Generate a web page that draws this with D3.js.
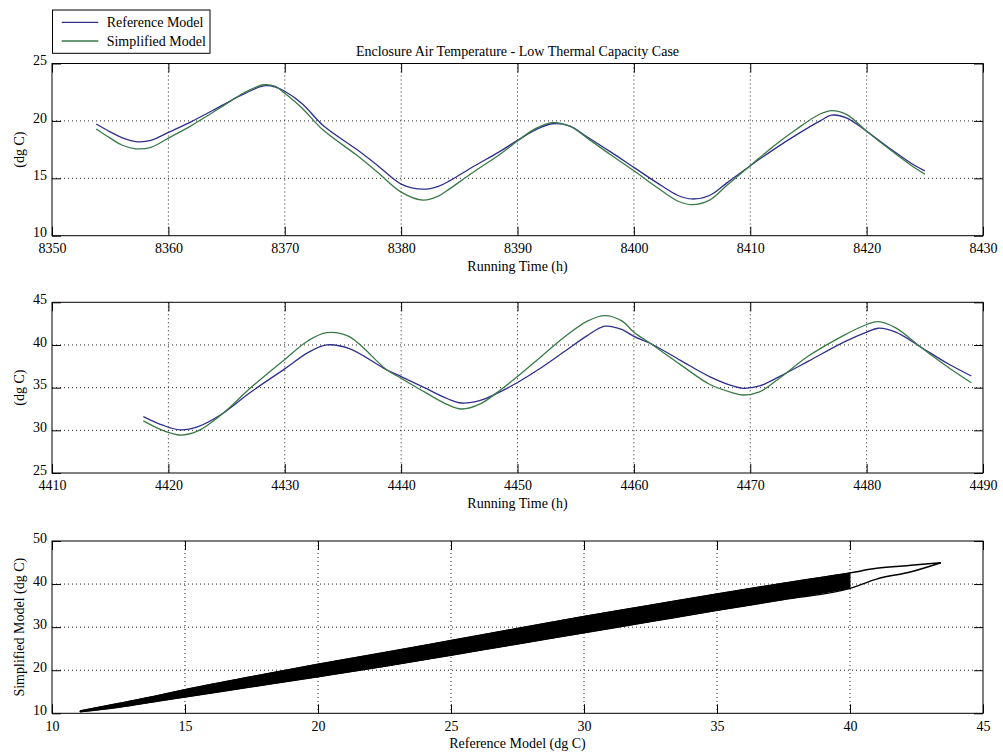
<!DOCTYPE html>
<html>
<head>
<meta charset="utf-8">
<script src="https://cdn.jsdelivr.net/npm/d3@7"></script>
<style>
  html, body { margin: 0; padding: 0; background: #fff; }
  svg { display: block; }
  text { font-family: "Liberation Serif", "Times New Roman", serif; fill: #000; }
</style>
</head>
<body>
<svg id="chart" width="1003" height="753"></svg>
<script>
// ---------------- DATA ----------------
const seriesNames = ["Reference Model", "Simplified Model"];
const chartTitle = "Enclosure Air Temperature - Low Thermal Capacity Case";

// Panel 1 (hours 8350-8430)
const p1Time = [8353.8, 8355, 8356, 8357.2, 8358.5, 8360, 8361.9, 8364.7, 8366.5, 8368.2, 8369.2, 8370,
  8371.5, 8373.3, 8376.2, 8378, 8380, 8381.9, 8383.2, 8384.2, 8386, 8388.5, 8390, 8391.5, 8393,
  8394.5, 8396, 8398, 8400, 8402, 8403.8, 8405, 8406.5, 8408, 8410, 8412, 8414, 8416, 8417,
  8418.3, 8420, 8422, 8424, 8425];
const p1Ref = [19.73, 19.05, 18.55, 18.2, 18.3, 19.0, 19.9, 21.4, 22.35, 23.05, 22.95, 22.58,
  21.5, 19.6, 17.5, 16.1, 14.5, 14.05, 14.3, 14.8, 15.9, 17.35, 18.3, 19.2, 19.75,
  19.55, 18.6, 17.3, 15.95, 14.6, 13.5, 13.2, 13.5, 14.6, 16.1, 17.5, 18.8, 20.0, 20.5,
  20.25, 19.1, 17.6, 16.2, 15.65];
const p1Simp = [19.3, 18.5, 17.9, 17.57, 17.7, 18.5, 19.55, 21.3, 22.45, 23.15, 23.0, 22.4,
  21.1, 19.2, 17.0, 15.5, 13.8, 13.1, 13.45, 14.1, 15.4, 17.1, 18.25, 19.3, 19.85,
  19.55, 18.5, 17.05, 15.65, 14.2, 13.0, 12.7, 13.1, 14.4, 16.1, 17.8, 19.3, 20.6, 20.9,
  20.55, 19.1, 17.5, 16.0, 15.36];

// Panel 2 (hours 4410-4490)
const p2Time = [4417.85, 4419.5, 4421, 4422.5, 4424.7, 4427, 4430, 4432, 4433.6, 4435.5, 4438.75, 4440,
  4442, 4444, 4445.2, 4446.8, 4448.5, 4450, 4452, 4454, 4456, 4457.5, 4459, 4460, 4461.4,
  4464, 4466.5, 4468.5, 4469.4, 4470.8, 4472.5, 4475, 4478, 4480, 4481, 4482.5, 4484.6, 4487, 4489];
const p2Ref = [31.6, 30.6, 30.05, 30.4, 32.0, 34.4, 37.2, 39.1, 40.0, 39.6, 37.1, 36.3,
  35.0, 33.7, 33.2, 33.5, 34.5, 35.6, 37.3, 39.2, 41.1, 42.2, 41.8, 41.0, 40.2,
  38.2, 36.3, 35.2, 34.92, 35.2, 36.3, 38.1, 40.3, 41.5, 41.96, 41.5, 39.8, 37.8, 36.37];
const p2Simp = [31.1, 30.0, 29.45, 29.9, 32.0, 34.9, 38.3, 40.5, 41.45, 41.0, 37.1, 36.1,
  34.5, 33.0, 32.5, 33.1, 34.7, 36.3, 38.6, 40.9, 42.8, 43.45, 42.8, 41.5, 40.2,
  37.7, 35.4, 34.4, 34.14, 34.5, 36.1, 38.7, 41.1, 42.4, 42.73, 42.0, 39.8, 37.4, 35.58];

// Panel 3: envelope of the Simplified-vs-Reference trajectory
const p3Ref   = [11.05, 12.5, 14, 15, 17.5, 20, 22.5, 25, 27.5, 30, 32.5, 35, 37.5, 40, 41, 42.3, 43.42];
const p3Upper = [10.55, 12.3, 14.15, 15.5, 18.5, 21.4, 24.1, 26.9, 29.7, 32.5, 35.1, 37.7, 40.2, 42.6, 43.65, 44.35, 44.95];
const p3Lower = [10.35, 11.4, 12.85, 13.8, 16.15, 18.5, 20.9, 23.5, 26.1, 28.7, 31.3, 33.9, 36.4, 39.0, 41.15, 42.85, 44.95];
const p3SolidUpTo = 40;

// Axis ticks
const p1XTicks = [8350, 8360, 8370, 8380, 8390, 8400, 8410, 8420, 8430];
const p1YTicks = [10, 15, 20, 25];
const p2XTicks = [4410, 4420, 4430, 4440, 4450, 4460, 4470, 4480, 4490];
const p2YTicks = [25, 30, 35, 40, 45];
const p3XTicks = [10, 15, 20, 25, 30, 35, 40, 45];
const p3YTicks = [10, 20, 30, 40, 50];

const xLabels = ["Running Time (h)", "Running Time (h)", "Reference Model (dg C)"];
const yLabels = ["(dg C)", "(dg C)", "Simplified Model (dg C)"];

// ---------------- DRAW ----------------
const svg = d3.select("#chart");
const W = 1003, H = 753;
svg.append("rect").attr("width", W).attr("height", H).attr("fill", "#fff");

const L = 52, R = 983;
const panels = [
  { top: 63.5, bottom: 235.7, xd: [8350, 8430], yd: [10, 25], xt: p1XTicks, yt: p1YTicks },
  { top: 302.3, bottom: 473, xd: [4410, 4490], yd: [25, 45], xt: p2XTicks, yt: p2YTicks },
  { top: 541, bottom: 713.3, xd: [10, 45], yd: [10, 50], xt: p3XTicks, yt: p3YTicks }
];
const colRef = "#2f2f8c", colSimp = "#3a7a48";
const FS = 14;

panels.forEach((p, i) => {
  p.x = d3.scaleLinear().domain(p.xd).range([L, R]);
  p.y = d3.scaleLinear().domain(p.yd).range([p.bottom, p.top]);
  const g = svg.append("g");
  // grid
  g.selectAll(".gx").data(p.xt.slice(1, -1)).join("line")
    .attr("x1", d => p.x(d)).attr("x2", d => p.x(d))
    .attr("y1", p.top).attr("y2", p.bottom)
    .attr("stroke", "#222").attr("stroke-width", 1).attr("stroke-dasharray", "1,3");
  g.selectAll(".gy").data(p.yt.slice(1, -1)).join("line")
    .attr("y1", d => p.y(d)).attr("y2", d => p.y(d))
    .attr("x1", L).attr("x2", R)
    .attr("stroke", "#222").attr("stroke-width", 1).attr("stroke-dasharray", "1,3");

  const styleAxis = a => {
    a.select(".domain").remove();
    a.selectAll("line").attr("stroke", "#000");
    a.selectAll("text").style("font-size", FS + "px").style("font-family", '"Liberation Serif", "Times New Roman", serif').attr("fill", "#000");
  };
  svg.append("g").attr("transform", `translate(0,${p.bottom})`)
    .call(d3.axisBottom(p.x).tickValues(p.xt).tickSize(-9).tickPadding(7.5).tickFormat(d3.format("d")))
    .call(styleAxis);
  svg.append("g").attr("transform", `translate(0,${p.top})`)
    .call(d3.axisTop(p.x).tickValues(p.xt).tickSize(-9).tickFormat(""))
    .call(styleAxis);
  svg.append("g").attr("transform", `translate(${L},0)`)
    .call(d3.axisLeft(p.y).tickValues(p.yt).tickSize(-9).tickPadding(5).tickFormat(d3.format("d")))
    .call(styleAxis)
    .call(a => a.selectAll("text").attr("dy", "0.08em"));
  svg.append("g").attr("transform", `translate(${R},0)`)
    .call(d3.axisRight(p.y).tickValues(p.yt).tickSize(-9).tickFormat(""))
    .call(styleAxis);

  // frame
  svg.append("rect").attr("x", L).attr("y", p.top).attr("width", R - L).attr("height", p.bottom - p.top)
    .attr("fill", "none").attr("stroke", "#000").attr("stroke-width", 1);

  // labels
  svg.append("text").attr("x", (L + R) / 2).attr("y", p.bottom + 35)
    .attr("text-anchor", "middle").style("font-size", FS + "px").text(xLabels[i]);
  svg.append("text").attr("transform", `translate(24,${(p.top + p.bottom) / 2}) rotate(-90)`)
    .attr("text-anchor", "middle").style("font-size", FS + "px").text(yLabels[i]);
});

// time series
function drawSeries(p, t, vals, color) {
  const data = t.map((d, k) => [d, vals[k]]);
  svg.append("path").datum(data)
    .attr("fill", "none").attr("stroke", color).attr("stroke-width", 1.3)
    .attr("d", d3.line().x(d => p.x(d[0])).y(d => p.y(d[1])).curve(d3.curveCatmullRom.alpha(0.5)));
}
drawSeries(panels[0], p1Time, p1Ref, colRef);
drawSeries(panels[0], p1Time, p1Simp, colSimp);
drawSeries(panels[1], p2Time, p2Ref, colRef);
drawSeries(panels[1], p2Time, p2Simp, colSimp);

// scatter band
{
  const p = panels[2];
  const env = p3Ref.map((d, k) => ({ x: d, hi: p3Upper[k], lo: p3Lower[k] }));
  const solid = env.filter(d => d.x <= p3SolidUpTo);
  svg.append("path").datum(solid)
    .attr("fill", "#000").attr("stroke", "#000").attr("stroke-width", 1)
    .attr("d", d3.area().x(d => p.x(d.x)).y0(d => p.y(d.lo)).y1(d => p.y(d.hi)).curve(d3.curveMonotoneX));
  const edge = key => d3.line().x(d => p.x(d.x)).y(d => p.y(d[key])).curve(d3.curveMonotoneX);
  ["hi", "lo"].forEach(k => {
    svg.append("path").datum(env).attr("fill", "none").attr("stroke", "#000")
      .attr("stroke-width", 1.5).attr("d", edge(k));
  });
}

// title
svg.append("text").attr("x", (L + R) / 2).attr("y", 56).attr("text-anchor", "middle")
  .style("font-size", FS + "px").text(chartTitle);

// legend
const lg = svg.append("g");
lg.append("rect").attr("x", 52.5).attr("y", 10).attr("width", 157.5).attr("height", 43.3)
  .attr("fill", "#fff").attr("stroke", "#000").attr("stroke-width", 1);
[colRef, colSimp].forEach((c, k) => {
  const yy = 22.3 + k * 18.7;
  lg.append("line").attr("x1", 61.7).attr("x2", 98.3).attr("y1", yy).attr("y2", yy)
    .attr("stroke", c).attr("stroke-width", 1.3);
  lg.append("text").attr("x", 106.7).attr("y", yy + 4.5).style("font-size", FS + "px").text(seriesNames[k]);
});
</script>
</body>
</html>
